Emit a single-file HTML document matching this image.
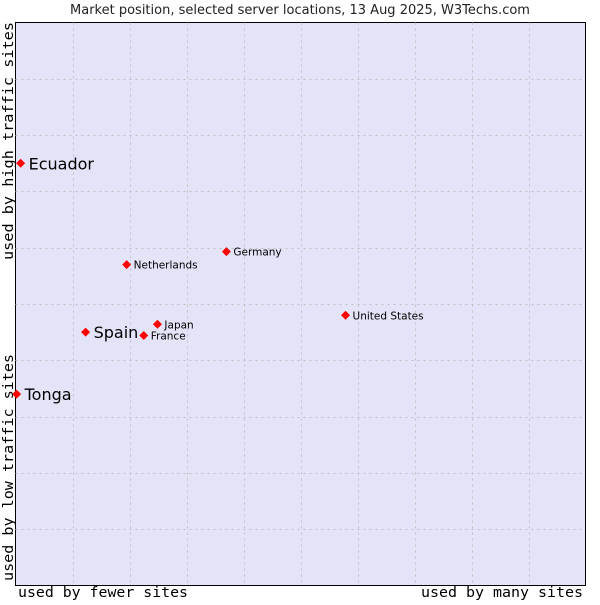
<!DOCTYPE html>
<html><head><meta charset="utf-8"><style>
body{margin:0;background:#fff;width:600px;height:600px;overflow:hidden}
svg text{font-family:"DejaVu Sans","Liberation Sans",sans-serif}
.m{font-family:"DejaVu Sans Mono","Liberation Mono",monospace}
</style></head><body>
<svg id="c" width="600" height="600">
<text x="300" y="14" text-anchor="middle" font-size="13" fill="#222">Market position, selected server locations, 13 Aug 2025, W3Techs.com</text>
<rect x="15.5" y="22.5" width="570" height="563" fill="#e4e4f8" stroke="#000"/>
<g id="grid"></g>
<g id="pts"></g>
<text class="m" x="18" y="597" font-size="14" textLength="170" lengthAdjust="spacingAndGlyphs">used by fewer sites</text>
<text class="m" x="421" y="597" font-size="14" textLength="162" lengthAdjust="spacingAndGlyphs">used by many sites</text>
<text class="m" transform="translate(13,581) rotate(-90)" font-size="14" textLength="227" lengthAdjust="spacingAndGlyphs">used by low traffic sites</text>
<text class="m" transform="translate(13,260) rotate(-90)" font-size="14" textLength="238" lengthAdjust="spacingAndGlyphs">used by high traffic sites</text>
</svg>
<script>
const names=["Ecuador","Tonga","Spain","Netherlands","Germany","Japan","France","United States"];
const xs=[0.09,0.02,1.23,1.95,3.70,2.49,2.25,5.79];
const ys=[7.50,3.40,4.50,5.70,5.93,4.64,4.44,4.80];
const big=[true,true,true,false,false,false,false,false];
const X0=15.5,X1=585.5,Y0=585.5,Y1=22.5;
const sx=v=>X0+v/10*(X1-X0), sy=v=>Y0-v/10*(Y0-Y1);
const ns="http://www.w3.org/2000/svg";
const g=document.getElementById('grid'),p=document.getElementById('pts');
for(let i=1;i<10;i++){
 let l=document.createElementNS(ns,'line');
 
 
 l.setAttribute('x1',Math.round(sx(i))+0.5);l.setAttribute('x2',Math.round(sx(i))+0.5);l.setAttribute('y1',Y1);l.setAttribute('y2',Y0);
 l.setAttribute('stroke','#c0c0c0');l.setAttribute('stroke-dasharray','2,4');g.appendChild(l);
 let h=document.createElementNS(ns,'line');
 
 
 h.setAttribute('y1',Math.round(sy(i))+0.5);h.setAttribute('y2',Math.round(sy(i))+0.5);h.setAttribute('x1',X0);h.setAttribute('x2',X1);
 h.setAttribute('stroke','#c0c0c0');h.setAttribute('stroke-dasharray','2,4');g.appendChild(h);
}
names.forEach((n,i)=>{
 const x=sx(xs[i]),y=sy(ys[i]);
 const d=document.createElementNS(ns,'path');
 
 
 d.setAttribute('d',`M${x-4.5},${y}L${x},${y-4.5}L${x+4.5},${y}L${x},${y+4.5}Z`);
 d.setAttribute('fill','#f00');p.appendChild(d);
 const t=document.createElementNS(ns,'text');
 
 
 t.setAttribute('x',x+(big[i]?8:7));t.setAttribute('y',y+(big[i]?6:4));
 t.setAttribute('font-size',big[i]?16:10.5);t.setAttribute('fill','#000');
 t.textContent=n;p.appendChild(t);
});
</script>
</body></html>
